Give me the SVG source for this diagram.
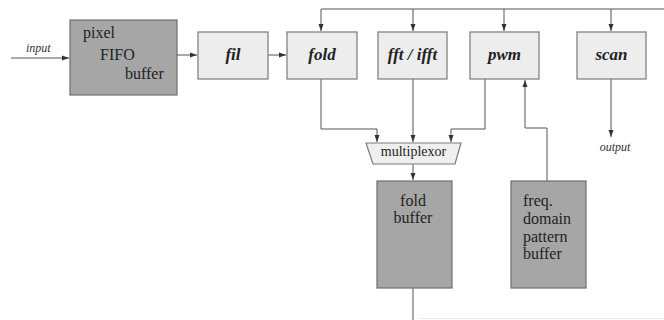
<svg xmlns="http://www.w3.org/2000/svg" width="664" height="320" viewBox="0 0 664 320">
<style>
.dark{fill:#a6a6a6;stroke:#6e6e6e;stroke-width:1.2}
.light{fill:#ededed;stroke:#7a7a7a;stroke-width:1.2}
.lbl{font-family:"Liberation Serif","Times New Roman",Times,"DejaVu Serif",serif;font-size:16px;fill:#222}
.bi{font-family:"Liberation Serif","Times New Roman",Times,"DejaVu Serif",serif;font-size:17px;font-weight:bold;font-style:italic;fill:#222;text-anchor:middle}
.it{font-family:"Liberation Serif","Times New Roman",Times,"DejaVu Serif",serif;font-size:12px;font-style:italic;fill:#333}
.wire{fill:none;stroke:#555;stroke-width:1}
</style>
<defs>
<marker id="ah" markerWidth="7" markerHeight="6" refX="7" refY="3" orient="auto" markerUnits="userSpaceOnUse">
<path d="M0,0.5 L7,3 L0,5.5 z" fill="#333"/>
</marker>
</defs>
<rect width="664" height="320" fill="#fff"/>
<g id="connectors">
<path class="wire" d="M11,58 H69" marker-end="url(#ah)"/>
<path class="wire" d="M177,55 H197" marker-end="url(#ah)"/>
<path class="wire" d="M268,55 H286" marker-end="url(#ah)"/>
<path class="wire" d="M664,9 H321 V31"  marker-end="url(#ah)"/>
<path class="wire" d="M413,9 V31" marker-end="url(#ah)"/>
<path class="wire" d="M504,9 V31" marker-end="url(#ah)"/>
<path class="wire" d="M611,9 V31" marker-end="url(#ah)"/>
<path class="wire" d="M321,79 V129 H377 V142" marker-end="url(#ah)"/>
<path class="wire" d="M413,79 V142" marker-end="url(#ah)"/>
<path class="wire" d="M485,79 V129 H451 V142" marker-end="url(#ah)"/>
<path class="wire" d="M413,164 V180" marker-end="url(#ah)"/>
<path class="wire" d="M547,181 V128 H525 V80" marker-end="url(#ah)"/>
<path class="wire" d="M611,79 V137" marker-end="url(#ah)"/>
<path class="wire" d="M413,288 V320"/>
<path d="M418,318.5 H664" stroke="#ececec" stroke-width="1" fill="none"/>
</g>
<g id="input-label"><text class="it" x="26" y="52">input</text></g>
<g id="output-label"><text class="it" x="615" y="151" text-anchor="middle">output</text></g>
<g id="pixel-fifo">
<rect class="dark" x="70" y="20" width="107" height="75"/>
<text class="lbl" x="83" y="38">pixel</text>
<text class="lbl" x="100" y="60">FIFO</text>
<text class="lbl" x="125" y="79">buffer</text>
</g>
<g id="fil">
<rect class="light" x="198" y="32" width="70" height="47"/>
<text class="bi" x="233" y="60">fil</text>
</g>
<g id="fold">
<rect class="light" x="287" y="32" width="70" height="47"/>
<text class="bi" x="322" y="60">fold</text>
</g>
<g id="fft">
<rect class="light" x="378" y="32" width="69" height="47"/>
<text class="bi" x="412.5" y="60">fft / ifft</text>
</g>
<g id="pwm">
<rect class="light" x="470" y="32" width="69" height="47"/>
<text class="bi" x="504.5" y="60">pwm</text>
</g>
<g id="scan">
<rect class="light" x="577" y="32" width="69" height="47"/>
<text class="bi" x="611.5" y="60">scan</text>
</g>
<g id="multiplexor">
<path d="M366,143 H461 L455,164 H373 Z" fill="#efefef" stroke="#7a7a7a" stroke-width="1.2"/>
<text class="lbl" x="413.5" y="156" text-anchor="middle" style="font-size:14px">multiplexor</text>
</g>
<g id="fold-buffer">
<rect class="dark" x="377" y="181" width="75" height="107"/>
<text class="lbl" x="413" y="206" text-anchor="middle">fold</text>
<text class="lbl" x="413" y="223" text-anchor="middle">buffer</text>
</g>
<g id="freq-buffer">
<rect class="dark" x="511" y="181" width="75" height="107"/>
<text class="lbl" x="523" y="206">freq.</text>
<text class="lbl" x="523" y="224">domain</text>
<text class="lbl" x="523" y="241.5">pattern</text>
<text class="lbl" x="523" y="259">buffer</text>
</g>
</svg>
